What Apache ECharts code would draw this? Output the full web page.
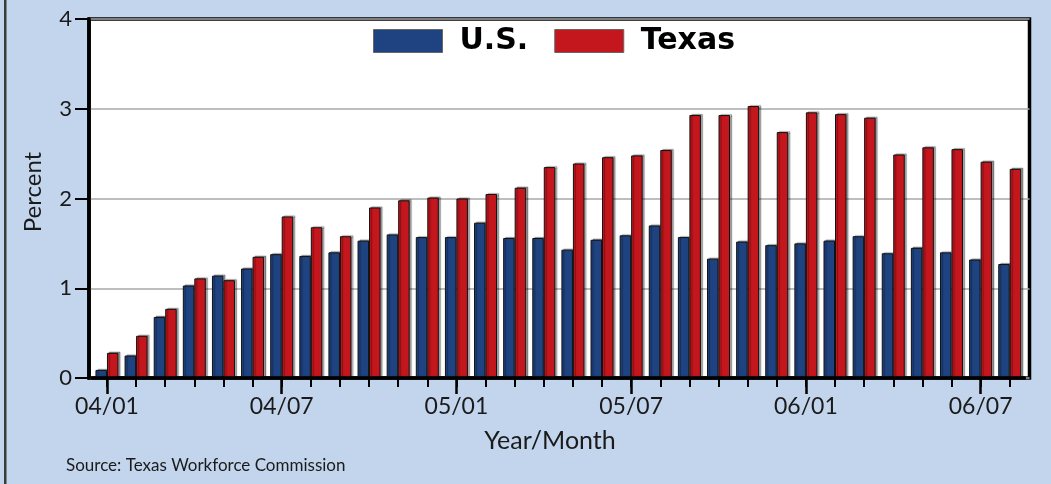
<!DOCTYPE html>
<html>
<head>
<meta charset="utf-8">
<script src="https://cdn.jsdelivr.net/npm/echarts@6/dist/echarts.min.js"></script>
<style>
html,body{margin:0;padding:0;background:#c3d5ed;}
#chart{width:1051px;height:484px;}
</style>
</head>
<body>
<div id="chart"></div>
<script>
const categories = ['04/01','04/02','04/03','04/04','04/05','04/06','04/07','04/08','04/09','04/10','04/11','04/12',
  '05/01','05/02','05/03','05/04','05/05','05/06','05/07','05/08','05/09','05/10','05/11','05/12',
  '06/01','06/02','06/03','06/04','06/05','06/06','06/07','06/08'];
const usValues = [0.09,0.25,0.68,1.03,1.14,1.22,1.38,1.36,1.40,1.53,1.60,1.57,
  1.57,1.73,1.56,1.56,1.43,1.54,1.59,1.70,1.57,1.33,1.52,1.48,
  1.50,1.53,1.58,1.39,1.45,1.40,1.32,1.27];
const texasValues = [0.28,0.47,0.77,1.11,1.09,1.35,1.80,1.68,1.58,1.90,1.98,2.01,
  2.00,2.05,2.12,2.35,2.39,2.46,2.48,2.54,2.93,2.93,3.03,2.74,
  2.96,2.94,2.90,2.49,2.57,2.55,2.41,2.33];
const seriesNames = ['U.S.','Texas'];
const yTicks = [0,1,2,3,4];
const labelEvery = 6;

const BLUE = '#1e4380';
const RED = '#c3161d';
const FONT = 'Lato';

const chart = echarts.init(document.getElementById('chart'), null, {renderer:'canvas'});
const barStyle = (c) => ({
  color: c, borderColor: '#111', borderWidth: 1,
  shadowColor: 'rgba(0,0,0,0.35)', shadowOffsetX: 2, shadowOffsetY: -1, shadowBlur: 1
});
const showMajor = (i) => i % labelEvery === 0;

chart.setOption({
  backgroundColor: '#c3d5ed',
  animation: false,
  grid: [
    {left: 89, right: 21.5, top: 19, bottom: 106, show: true, backgroundColor: '#ffffff', borderColor: '#000', borderWidth: 3.5, z: 0},
    {left: 92.4, right: 26.7, top: 19, bottom: 106}
  ],
  legend: {
    data: seriesNames,
    left: 373, top: 26, padding: 0,
    itemWidth: 69, itemHeight: 23, itemGap: 26,
    icon: 'rect',
    itemStyle: {borderColor: '#666', borderWidth: 1, shadowBlur: 0, shadowOffsetX: 0, shadowOffsetY: 0},
    textStyle: {fontFamily: 'DejaVu Sans', fontWeight: 'bold', fontSize: 30, color: '#000', padding: [0,0,0,12]}
  },
  xAxis: [
    {type: 'value', gridIndex: 0, min: 0, max: 1, show: false},
    {type: 'category', gridIndex: 1, data: categories, position: 'bottom', z: 10,
      axisLine: {show: true, lineStyle: {color: '#000', width: 3.7}},
      axisTick: {show: true, alignWithLabel: true, interval: 0, length: 9, lineStyle: {color: '#000', width: 2}},
      axisLabel: {show: false}, splitLine: {show: false}},
    {type: 'category', gridIndex: 1, data: categories, position: 'bottom', z: 10,
      axisLine: {show: false},
      axisTick: {show: true, alignWithLabel: true, interval: showMajor, length: 16, lineStyle: {color: '#000', width: 2.5}},
      axisLabel: {show: true, interval: showMajor, margin: 17, fontFamily: FONT, fontSize: 23, color: '#1a1a1a'},
      splitLine: {show: false}}
  ],
  yAxis: [
    {type: 'value', gridIndex: 0, min: yTicks[0], max: yTicks[yTicks.length-1], interval: 1,
      axisLine: {show: true, lineStyle: {color: '#000', width: 3.7}},
      axisTick: {show: true, length: 14, lineStyle: {color: '#000', width: 2}},
      axisLabel: {margin: 17, fontFamily: FONT, fontSize: 22, color: '#1a1a1a'},
      splitLine: {show: true, lineStyle: {color: '#a8a8a8', width: 1.5}}},
    {type: 'value', gridIndex: 1, min: yTicks[0], max: yTicks[yTicks.length-1], show: false, splitLine: {show: false}}
  ],
  series: [
    {name: seriesNames[0], type: 'bar', xAxisIndex: 1, yAxisIndex: 1, data: usValues, barWidth: 11.5, barGap: '0%', itemStyle: barStyle(BLUE)},
    {name: seriesNames[1], type: 'bar', xAxisIndex: 1, yAxisIndex: 1, data: texasValues, barWidth: 11.5, barGap: '0%', itemStyle: barStyle(RED)}
  ],
  graphic: [
    {type: 'rect', left: 4, top: 0, shape: {width: 2.5, height: 484}, style: {fill: '#3a3a3a'}, silent: true},
    {type: 'text', x: 33, y: 192, rotation: Math.PI/2,
      style: {text: 'Percent', fontFamily: FONT, fontSize: 24, fill: '#1a1a1a', align: 'center', verticalAlign: 'middle'}},
    {type: 'text', x: 550, y: 441,
      style: {text: 'Year/Month', fontFamily: FONT, fontSize: 25, fill: '#1a1a1a', align: 'center', verticalAlign: 'middle'}},
    {type: 'text', x: 66, y: 466,
      style: {text: 'Source: Texas Workforce Commission', fontFamily: FONT, fontSize: 17, fill: '#1a1a1a', align: 'left', verticalAlign: 'middle'}}
  ]
});
</script>
</body>
</html>
